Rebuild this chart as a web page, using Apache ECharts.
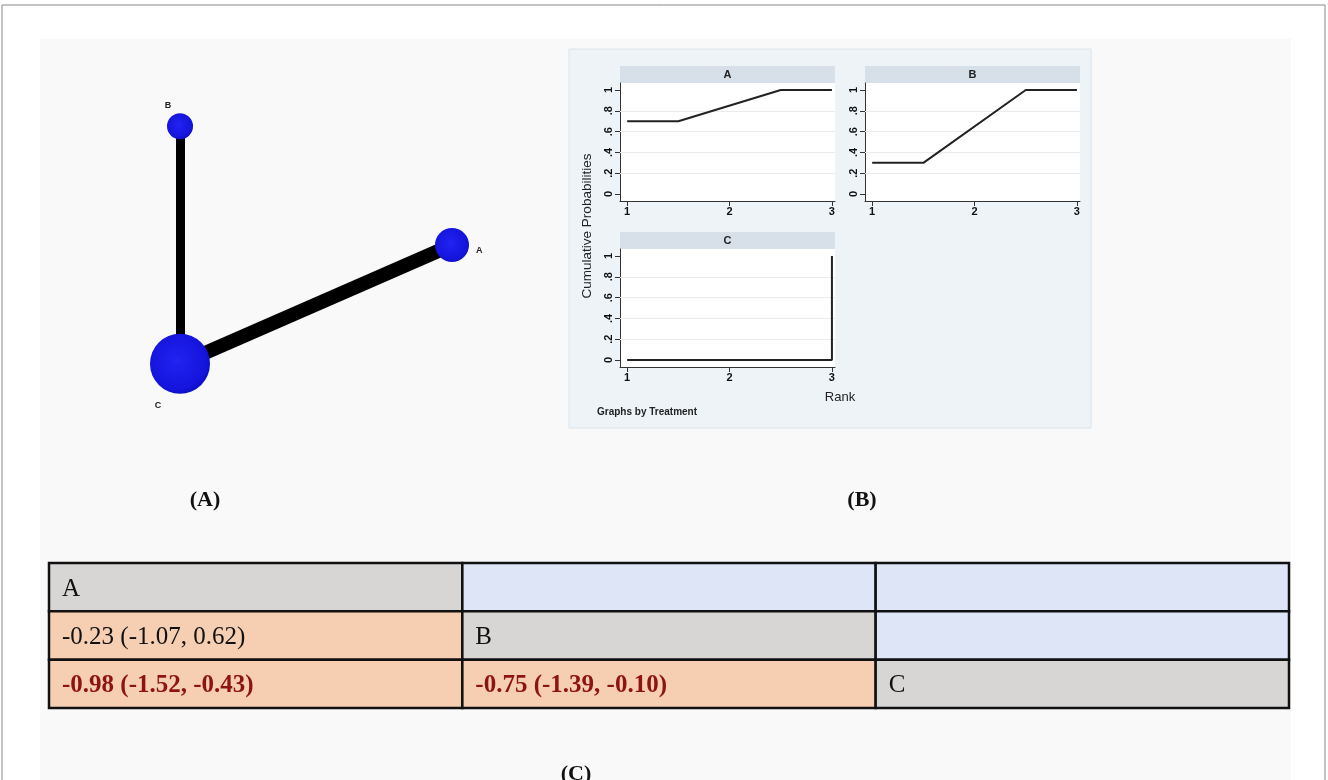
<!DOCTYPE html>
<html>
<head>
<meta charset="utf-8">
<script src="https://cdn.jsdelivr.net/npm/echarts@6/dist/echarts.min.js"></script>
<style>
html,body{margin:0;padding:0;background:#fff;}
#main{width:1328px;height:780px;}
</style>
</head>
<body>
<div id="main"></div>
<script>
// ---------- DATA ----------
// (A) network
const nodeNames = ['A', 'B', 'C'];
const nodeX = [88, 20, 20];
const nodeY = [50, 86, 14];
const nodeWeight = [34, 26, 60];
const edgeFrom = ['B', 'C'];
const edgeTo = ['C', 'A'];
const edgeWeight = [9, 14];

// (B) cumulative rank probabilities
const rankA_x = [1, 1.5, 2.5, 3];
const rankA_y = [0.7, 0.7, 1, 1];
const rankB_x = [1, 1.5, 2.5, 3];
const rankB_y = [0.3, 0.3, 1, 1];
const rankC_x = [1, 3, 3];
const rankC_y = [0, 0, 1];
const rankTicks = [1, 2, 3];
const probTicks = [0, 0.2, 0.4, 0.6, 0.8, 1];
const probTickLabels = ['0', '.2', '.4', '.6', '.8', '1'];

// (C) league table
const treatments = ['A', 'B', 'C'];
const compRow = [1, 2, 2];
const compCol = [0, 0, 1];
const compEst = [-0.23, -0.98, -0.75];
const compLow = [-1.07, -1.52, -1.39];
const compHigh = [0.62, -0.43, -0.10];

// ---------- BUILD ----------
const chart = echarts.init(document.getElementById('main'), null, {renderer: 'canvas'});

const nodes = nodeNames.map((n, i) => ({
  name: n,
  value: [nodeX[i], nodeY[i]],
  symbolSize: nodeWeight[i]
}));
const labelPos = {A: {position: 'right', offset: [2, 6]}, B: {position: 'top', offset: [-12, 2]}, C: {position: 'bottom', offset: [-22, 2]}};
nodes.forEach(n => {
  n.label = Object.assign({show: true, fontSize: 9, fontWeight: 'bold', fontFamily: 'Liberation Sans', color: '#222'}, labelPos[n.name]);
});
const links = edgeFrom.map((f, i) => ({source: f, target: edgeTo[i], lineStyle: {width: edgeWeight[i]}}));

const fmt = v => v.toFixed(2);
const cellTexts = [];
const tableData = [];
for (let r = 0; r < treatments.length; r++) {
  for (let c = 0; c < treatments.length; c++) {
    let kind, text = '';
    if (r === c) { kind = 0; text = treatments[r]; }
    else if (c > r) { kind = 1; }
    else {
      const k = compRow.findIndex((rr, j) => rr === r && compCol[j] === c);
      const sig = compLow[k] > 0 || compHigh[k] < 0;
      kind = sig ? 3 : 2;
      text = fmt(compEst[k]) + ' (' + fmt(compLow[k]) + ', ' + fmt(compHigh[k]) + ')';
    }
    cellTexts.push(text);
    tableData.push([c, r, kind]);
  }
}
const cellFill = ['#d8d5d5', '#dde5f6', '#f6cfb3', '#f6cfb3'];

// rank panel grids
const panelGrids = [
  {left: 620, top: 83, width: 215, height: 118},
  {left: 865, top: 83, width: 215, height: 118},
  {left: 620, top: 249, width: 215, height: 118}
];
const panelSeries = [[rankA_x, rankA_y], [rankB_x, rankB_y], [rankC_x, rankC_y]];
const panelTitles = ['A', 'B', 'C'];

const axisFont = {fontSize: 11, fontWeight: 'bold', fontFamily: 'Liberation Sans', color: '#111'};

const grids = [
  {left: 100, top: 80, width: 400, height: 330},          // network
  {left: 49, top: 563, width: 1240, height: 145}          // table
].concat(panelGrids.map(g => Object.assign({backgroundColor: '#fff', show: true, borderWidth: 0}, g)));

const xAxes = [
  {gridIndex: 0, type: 'value', min: 0, max: 100, show: false},
  {gridIndex: 1, type: 'category', data: treatments, show: false}
];
const yAxes = [
  {gridIndex: 0, type: 'value', min: 0, max: 100, show: false},
  {gridIndex: 1, type: 'category', data: treatments, inverse: true, show: false}
];
panelGrids.forEach((g, i) => {
  xAxes.push({
    gridIndex: i + 2, type: 'value', min: 0.93, max: 3.03,
    axisLine: {show: true, onZero: false, lineStyle: {color: '#333', width: 1}},
    axisTick: {show: true, customValues: rankTicks, length: 5, lineStyle: {color: '#333'}},
    axisLabel: Object.assign({customValues: rankTicks, margin: 5, formatter: v => String(v)}, axisFont),
    splitLine: {show: false}
  });
  yAxes.push({
    gridIndex: i + 2, type: 'value', min: -0.067, max: 1.067,
    axisLine: {show: true, onZero: false, lineStyle: {color: '#333', width: 1}},
    axisTick: {show: true, customValues: probTicks, length: 5, lineStyle: {color: '#333'}},
    axisLabel: Object.assign({customValues: probTicks, margin: 6, rotate: 90,
      formatter: v => probTickLabels[probTicks.findIndex(t => Math.abs(t - v) < 1e-6)] || ''}, axisFont),
    splitLine: {show: false}
  });
});

const series = [
  {
    type: 'graph', coordinateSystem: 'cartesian2d', xAxisIndex: 0, yAxisIndex: 0,
    data: nodes, links: links, symbol: 'circle',
    itemStyle: {
      color: {type: 'radial', x: 0.45, y: 0.45, r: 0.6,
        colorStops: [{offset: 0, color: '#2323f2'}, {offset: 0.8, color: '#1414dc'}, {offset: 1, color: '#0c0cb8'}]}
    },
    lineStyle: {color: '#000', opacity: 1, curveness: 0},
    silent: true, z: 3
  },
  {
    type: 'custom', xAxisIndex: 1, yAxisIndex: 1, data: tableData, silent: true,
    renderItem: function (params, api) {
      const c = api.coord([api.value(0), api.value(1)]);
      const s = api.size([1, 1]);
      const kind = api.value(2);
      const x = c[0] - s[0] / 2, y = c[1] - s[1] / 2;
      return {
        type: 'group', children: [
          {type: 'rect', shape: {x: x, y: y, width: s[0], height: s[1]},
            style: {fill: cellFill[kind], stroke: '#111', lineWidth: 2.5}},
          {type: 'text', x: x + 13, y: c[1] + 2,
            style: {text: cellTexts[params.dataIndex], fontSize: 25, fontFamily: 'Liberation Serif',
              fontWeight: kind === 3 ? 'bold' : 'normal', fill: kind === 3 ? '#8e1414' : '#111',
              verticalAlign: 'middle', align: 'left'}}
        ]
      };
    }
  }
];
panelSeries.forEach((p, i) => {
  // faint horizontal gridlines behind the curve
  series.push({
    type: 'line', xAxisIndex: i + 2, yAxisIndex: i + 2, data: [], z: 1, silent: true,
    markLine: {
      silent: true, symbol: 'none', label: {show: false}, animation: false, z: 1,
      lineStyle: {color: '#ebebeb', width: 1, type: 'solid'},
      data: probTicks.slice(1, 5).map(v => ({yAxis: v}))
    }
  });
  series.push({
    type: 'line', xAxisIndex: i + 2, yAxisIndex: i + 2, z: 6,
    data: p[0].map((x, j) => [x, p[1][j]]),
    symbol: 'none', lineStyle: {color: '#222', width: 2}, silent: true, animation: false
  });
});

const graphics = [
  {type: 'rect', shape: {x: 2, y: 5, width: 1323, height: 790}, style: {fill: '#fff', stroke: '#888', lineWidth: 1}, z: -10},
  {type: 'rect', shape: {x: 40, y: 39, width: 1251, height: 760}, style: {fill: '#f9f9f9'}, z: -9},
  {type: 'rect', shape: {x: 569, y: 49, width: 522, height: 379}, style: {fill: '#edf3f7', stroke: '#dde4ea', lineWidth: 1}, z: -8},
  {type: 'text', x: 205, y: 500, style: {text: '(A)', fontSize: 22, fontWeight: 'bold', fontFamily: 'Liberation Serif', fill: '#111', align: 'center', verticalAlign: 'middle'}},
  {type: 'text', x: 862, y: 500, style: {text: '(B)', fontSize: 22, fontWeight: 'bold', fontFamily: 'Liberation Serif', fill: '#111', align: 'center', verticalAlign: 'middle'}},
  {type: 'text', x: 576, y: 774, style: {text: '(C)', fontSize: 22, fontWeight: 'bold', fontFamily: 'Liberation Serif', fill: '#111', align: 'center', verticalAlign: 'middle'}},
  {type: 'text', x: 587, y: 226, rotation: Math.PI / 2, style: {text: 'Cumulative Probabilities', fontSize: 13.5, fontFamily: 'Liberation Sans', fill: '#222', align: 'center', verticalAlign: 'middle'}},
  {type: 'text', x: 840, y: 397, style: {text: 'Rank', fontSize: 13, fontFamily: 'Liberation Sans', fill: '#222', align: 'center', verticalAlign: 'middle'}},
  {type: 'text', x: 597, y: 412, style: {text: 'Graphs by Treatment', fontSize: 10, fontWeight: 'bold', fontFamily: 'Liberation Sans', fill: '#222', align: 'left', verticalAlign: 'middle'}}
];
panelGrids.forEach((g, i) => {
  graphics.push({type: 'rect', shape: {x: g.left, y: g.top - 17, width: g.width, height: 17}, style: {fill: '#d7e0e8'}, z: -5});
  graphics.push({type: 'text', x: g.left + g.width / 2, y: g.top - 8.5, style: {text: panelTitles[i], fontSize: 11, fontWeight: 'bold', fontFamily: 'Liberation Sans', fill: '#222', align: 'center', verticalAlign: 'middle'}});
});

chart.setOption({
  animation: false,
  backgroundColor: '#ffffff',
  grid: grids,
  xAxis: xAxes,
  yAxis: yAxes,
  series: series,
  graphic: graphics
});
</script>
</body>
</html>
